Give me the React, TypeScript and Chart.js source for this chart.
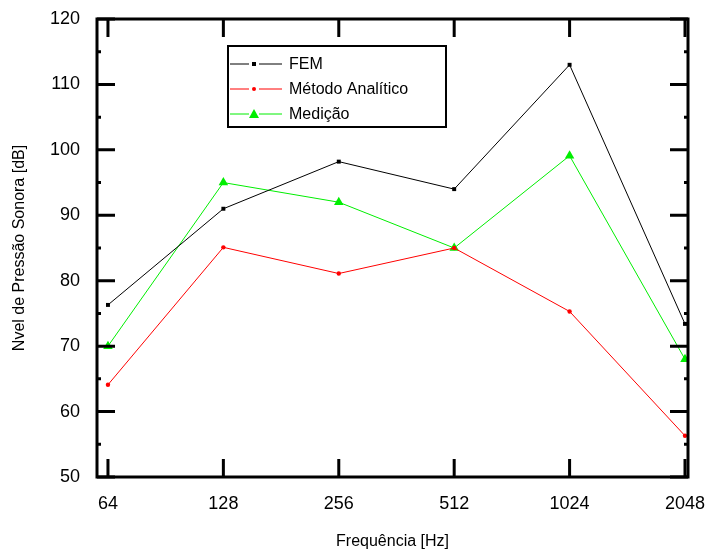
import React, { useEffect, useRef } from "react";
import { Chart, registerables } from "chart.js";
Chart.register(...registerables);

const frequencies = [64, 128, 256, 512, 1024, 2048];
const femValues = [76.3, 91.0, 98.2, 94.0, 113.0, 73.4];
const analyticValues = [64.1, 85.1, 81.1, 85.0, 75.3, 56.3];
const measuredValues = [70.0, 95.0, 92.0, 85.0, 99.1, 68.0];
const xTickLabels = ["64", "128", "256", "512", "1024", "2048"];
const yMajorTicks = [50, 60, 70, 80, 90, 100, 110, 120];
const yMinorTicks = [55, 65, 75, 85, 95, 105, 115];
const seriesNames = ["FEM", "Método Analítico", "Medição"];
const seriesColors = ["#000000", "#ff0000", "#00ee00"];

const FONT = "'Liberation Sans', Arial, sans-serif";

const framePlugin = {
  id: "frame",
  afterDraw(chart: any) {
    const { ctx, chartArea, scales } = chart;
    const { left, right, top, bottom } = chartArea;
    const x = scales.x;
    const y = scales.y;
    ctx.save();
    ctx.strokeStyle = "#000";
    ctx.lineWidth = 3;
    ctx.lineCap = "butt";
    ctx.strokeRect(left, top, right - left, bottom - top);
    ctx.beginPath();
    for (const v of yMajorTicks) {
      const py = y.getPixelForValue(v);
      ctx.moveTo(left, py);
      ctx.lineTo(left + 18, py);
      ctx.moveTo(right, py);
      ctx.lineTo(right - 18, py);
    }
    for (const v of yMinorTicks) {
      const py = y.getPixelForValue(v);
      ctx.moveTo(left, py);
      ctx.lineTo(left + 4, py);
      ctx.moveTo(right, py);
      ctx.lineTo(right - 4, py);
    }
    for (const f of frequencies) {
      const px = x.getPixelForValue(f);
      ctx.moveTo(px, bottom);
      ctx.lineTo(px, bottom - 18);
      ctx.moveTo(px, top);
      ctx.lineTo(px, top + 18);
    }
    ctx.stroke();

    // legend
    const lx = 228, ly = 46, lw = 218, lh = 81;
    ctx.lineWidth = 2;
    ctx.fillStyle = "#fff";
    ctx.fillRect(lx, ly, lw, lh);
    ctx.strokeRect(lx, ly, lw, lh);
    ctx.font = `16px ${FONT}`;
    ctx.textBaseline = "middle";
    ctx.textAlign = "left";
    const rows = [64, 89, 114];
    rows.forEach((ry, i) => {
      ctx.strokeStyle = seriesColors[i];
      ctx.fillStyle = seriesColors[i];
      ctx.lineWidth = 1;
      ctx.beginPath();
      ctx.moveTo(230, ry);
      ctx.lineTo(249, ry);
      ctx.moveTo(259, ry);
      ctx.lineTo(282, ry);
      ctx.stroke();
      ctx.beginPath();
      if (i === 0) {
        ctx.fillRect(252, ry - 2, 4, 4);
      } else if (i === 1) {
        ctx.arc(254, ry, 2, 0, Math.PI * 2);
        ctx.fill();
      } else {
        ctx.moveTo(254, ry - 5);
        ctx.lineTo(259, ry + 4);
        ctx.lineTo(249, ry + 4);
        ctx.closePath();
        ctx.fill();
      }
      ctx.fillStyle = "#000";
      ctx.fillText(seriesNames[i], 289, ry + 1);
    });
    ctx.restore();
  },
};

function toPoints(values: number[]) {
  return frequencies.map((f, i) => ({ x: f, y: values[i] }));
}

export default function App() {
  const ref = useRef<HTMLCanvasElement>(null);
  useEffect(() => {
    if (!ref.current) return;
    Chart.defaults.font.family = FONT;
    const chart = new Chart(ref.current, {
      type: "line",
      data: {
        datasets: [
          {
            label: seriesNames[0],
            data: toPoints(femValues),
            borderColor: seriesColors[0],
            backgroundColor: seriesColors[0],
            borderWidth: 1,
            pointStyle: "rect",
            pointRadius: 2.8,
            pointBorderWidth: 0,
          },
          {
            label: seriesNames[1],
            data: toPoints(analyticValues),
            borderColor: seriesColors[1],
            backgroundColor: seriesColors[1],
            borderWidth: 1,
            pointStyle: "circle",
            pointRadius: 2.2,
            pointBorderWidth: 0,
          },
          {
            label: seriesNames[2],
            data: toPoints(measuredValues),
            borderColor: seriesColors[2],
            backgroundColor: seriesColors[2],
            borderWidth: 1,
            pointStyle: "triangle",
            pointRadius: 5.5,
            pointBorderWidth: 0,
          },
        ],
      },
      options: {
        animation: false,
        responsive: true,
        maintainAspectRatio: false,
        layout: { padding: { top: 19, right: 21, left: 0, bottom: 0 } },
        plugins: { legend: { display: false }, tooltip: { enabled: false } },
        scales: {
          x: {
            type: "logarithmic",
            min: 64 * Math.pow(2, -0.095),
            max: 2048 * Math.pow(2, 0.026),
            grid: { display: false, drawTicks: false },
            border: { display: false },
            afterBuildTicks: (scale: any) => {
              scale.ticks = frequencies.map((v) => ({ value: v }));
            },
            afterFit: (scale: any) => {
              scale.height = 77;
              scale.paddingLeft = 0;
              scale.paddingRight = 0;
            },
            ticks: {
              autoSkip: false,
              maxRotation: 0,
              padding: 16,
              color: "#000",
              font: { size: 18 },
              callback: (v: any) => {
                const idx = frequencies.indexOf(Number(v));
                return idx >= 0 ? xTickLabels[idx] : "";
              },
            },
            title: {
              display: true,
              text: "Frequência [Hz]",
              color: "#000",
              font: { size: 16 },
              padding: { top: 0, bottom: 3 },
            },
          },
          y: {
            min: 50,
            max: 120,
            grid: { display: false, drawTicks: false },
            border: { display: false },
            afterFit: (scale: any) => {
              scale.width = 97;
              scale.paddingTop = 0;
              scale.paddingBottom = 0;
            },
            ticks: {
              stepSize: 10,
              padding: 17,
              color: "#000",
              font: { size: 18 },
            },
            title: {
              display: true,
              text: "Nvel de Pressão Sonora [dB]",
              color: "#000",
              font: { size: 16 },
              padding: { top: 10, bottom: 0 },
            },
          },
        },
      },
      plugins: [framePlugin],
    });
    return () => chart.destroy();
  }, []);
  return (
    <div style={{ position: "fixed", left: 0, top: 0, width: 709, height: 554, background: "#fff" }}>
      <canvas ref={ref} />
    </div>
  );
}
